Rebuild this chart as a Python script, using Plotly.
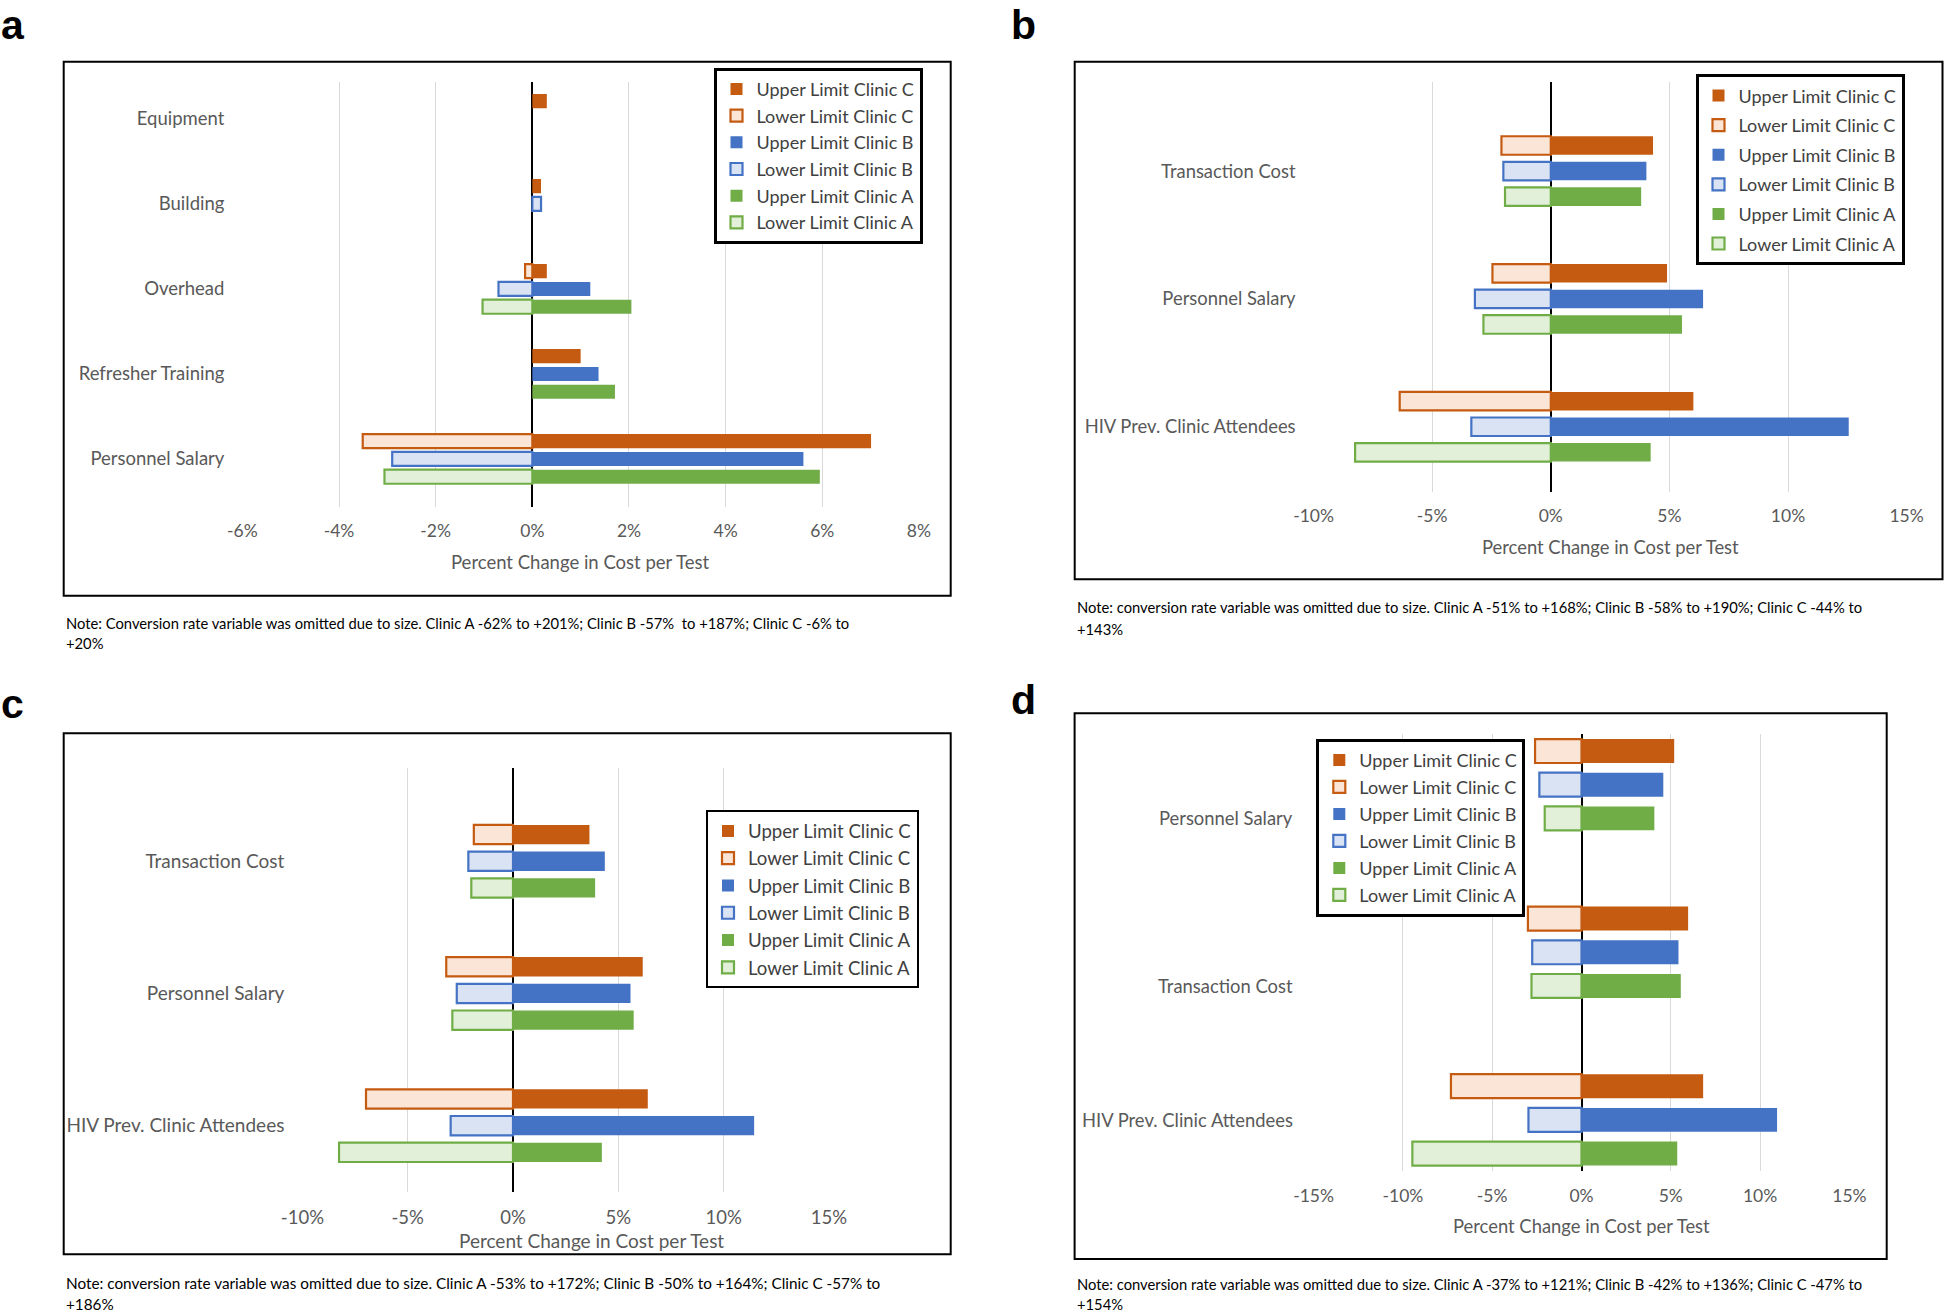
import plotly.graph_objects as go

W, H = 1944, 1313

# ---------------- data ----------------
series_names = ["Upper Limit Clinic C", "Lower Limit Clinic C",
                "Upper Limit Clinic B", "Lower Limit Clinic B",
                "Upper Limit Clinic A", "Lower Limit Clinic A"]

# Panel a
cats_a = ["Equipment", "Building", "Overhead", "Refresher Training", "Personnel Salary"]
upper_c_a = [0.30, 0.18, 0.30, 1.00, 7.01]
lower_c_a = [None, None, -0.15, None, -3.51]
upper_b_a = [None, None, 1.20, 1.37, 5.61]
lower_b_a = [None, 0.18, -0.70, None, -2.90]
upper_a_a = [None, None, 2.05, 1.71, 5.95]
lower_a_a = [None, None, -1.03, None, -3.06]
ticks_a = [-6, -4, -2, 0, 2, 4, 6, 8]
note_a = ["Note: Conversion rate variable was omitted due to size. Clinic A -62% to +201%; Clinic B -57%  to +187%; Clinic C -6% to",
          "+20%"]

# Panel b
cats_b = ["Transaction Cost", "Personnel Salary", "HIV Prev. Clinic Attendees"]
upper_c_b = [4.31, 4.90, 6.01]
lower_c_b = [-2.08, -2.46, -6.37]
upper_b_b = [4.03, 6.42, 12.56]
lower_b_b = [-2.00, -3.20, -3.35]
upper_a_b = [3.81, 5.53, 4.21]
lower_a_b = [-1.93, -2.84, -8.25]
ticks_b = [-10, -5, 0, 5, 10, 15]
note_b = ["Note: conversion rate variable was omitted due to size. Clinic A -51% to +168%; Clinic B -58% to +190%; Clinic C -44% to",
          "+143%"]

# Panel c
cats_c = ["Transaction Cost", "Personnel Salary", "HIV Prev. Clinic Attendees"]
upper_c_c = [3.63, 6.16, 6.40]
lower_c_c = [-1.86, -3.17, -6.98]
upper_b_c = [4.36, 5.58, 11.45]
lower_b_c = [-2.12, -2.67, -2.96]
upper_a_c = [3.90, 5.73, 4.22]
lower_a_c = [-1.98, -2.88, -8.26]
ticks_c = [-10, -5, 0, 5, 10, 15]
note_c = ["Note: conversion rate variable was omitted due to size. Clinic A -53% to +172%; Clinic B -50% to +164%; Clinic C -57% to",
          "+186%"]

# Panel d
cats_d = ["Personnel Salary", "Transaction Cost", "HIV Prev. Clinic Attendees"]
upper_c_d = [5.19, 5.97, 6.81]
lower_c_d = [-2.60, -3.00, -7.31]
upper_b_d = [4.58, 5.43, 10.95]
lower_b_d = [-2.36, -2.76, -2.97]
upper_a_d = [4.08, 5.56, 5.36]
lower_a_d = [-2.06, -2.80, -9.47]
ticks_d = [-15, -10, -5, 0, 5, 10, 15]
note_d = ["Note: conversion rate variable was omitted due to size. Clinic A -37% to +121%; Clinic B -42% to +136%; Clinic C -47% to",
          "+154%"]

axis_title = "Percent Change in Cost per Test"

# ---------------- styling ----------------
FONT = "Lato, Carlito, Calibri, sans-serif"
GRAY = "#595959"
dark_cols = ["#C55A11", "#4472C4", "#70AD47"]
light_cols = ["#FBE5D6", "#DAE3F3", "#E2F0D9"]


def px(x):
    return x / W


def py(y):
    return 1 - y / H


panels = [
    dict(key="a", cats=cats_a,
         series=[upper_c_a, lower_c_a, upper_b_a, lower_b_a, upper_a_a, lower_a_a],
         ticks=ticks_a, note=note_a, ax="", leg="legend",
         xdom=(242.4, 918.9), ydom=(81.7, 506.7), xr=(-6, 8), yr=(4.562, -0.438),
         slot=0.2094, bw=0.165, lab_shift=None,
         fs=dict(lab=18.5, tick=17.5, leg=18, note=14.75),
         box=(63.7, 61.7, 950.7, 595.7), letter=(-1, 0.5), title=(580.5, 561.7),
         notey=(623.3, 643.3), notex=64.3,
         legpos=(713.5, 67.7), legbw=3, leggap=0.3),
    dict(key="b", cats=cats_b,
         series=[upper_c_b, lower_c_b, upper_b_b, lower_b_b, upper_a_b, lower_a_b],
         ticks=ticks_b, note=note_b, ax="2", leg="legend2",
         xdom=(1313.6, 1906.6), ydom=(81.7, 491.7), xr=(-10, 15), yr=(2.508, -0.699),
         slot=0.2, bw=0.145, lab_shift=None,
         fs=dict(lab=18.4, tick=17.5, leg=18, note=14.75),
         box=(1074.7, 61.7, 1942.5, 579.3), letter=(1009, 0.5), title=(1610, 546.7),
         notey=(606.7, 628.7), notex=1074.6,
         legpos=(1695.5, 74.3), legbw=3, leggap=3.2),
    dict(key="c", cats=cats_c,
         series=[upper_c_c, lower_c_c, upper_b_c, lower_b_c, upper_a_c, lower_a_c],
         ticks=ticks_c, note=note_c, ax="3", leg="legend3",
         xdom=(302.4, 828.9), ydom=(768.3, 1192.3), xr=(-10, 15), yr=(2.504, -0.703),
         slot=0.202, bw=0.146, lab_shift=None,
         fs=dict(lab=19, tick=18.5, leg=18.6, note=15.3),
         box=(63.7, 733.3, 950.7, 1254.3), letter=(-1, 678.5), title=(591, 1240),
         notey=(1283, 1303.5), notex=64.3,
         legpos=(706, 810.3), legbw=2, leggap=0.1),
    dict(key="d", cats=cats_d,
         series=[upper_c_d, lower_c_d, upper_b_d, lower_b_d, upper_a_d, lower_a_d],
         ticks=ticks_d, note=note_d, ax="4", leg="legend4",
         xdom=(1313.6, 1849.4), ydom=(734, 1171), xr=(-15, 15), yr=(2.305, -0.3025),
         slot=0.201, bw=0.143, lab_shift=[-33, -33.4, 0],
         fs=dict(lab=18.4, tick=17.5, leg=18, note=14.75),
         box=(1074.6, 713.3, 1886.7, 1259), letter=(1009, 675.2), title=(1581.7, 1226),
         notey=(1284, 1304), notex=1074.6,
         legpos=(1316.3, 738.7), legbw=3, leggap=0.6),
]

fig = go.Figure()
layout = dict(width=W, height=H,
              margin=dict(l=0, r=0, t=0, b=0, pad=0, autoexpand=False),
              paper_bgcolor="white", plot_bgcolor="white",
              barmode="overlay", showlegend=True,
              font=dict(family=FONT, size=17, color=GRAY))
annotations = []
shapes = []

for p in panels:
    xa = "x" + p["ax"]
    ya = "y" + p["ax"]
    s, w = p["slot"], p["bw"]
    fs = p["fs"]
    for i, (name, vals) in enumerate(zip(series_names, p["series"])):
        clinic = i // 2
        lower = i % 2 == 1
        offset = -1.5 * s + clinic * s + (s - w) / 2
        fig.add_trace(go.Bar(
            x=vals, y=p["cats"], orientation="h", name=name,
            width=w, offset=offset,
            marker=dict(color=light_cols[clinic] if lower else dark_cols[clinic],
                        line=dict(color=dark_cols[clinic], width=2.2 if lower else 0)),
            xaxis=xa, yaxis=ya, legend=p["leg"], legendgroup=p["key"] + str(i),
            hoverinfo="x+y+name",
        ))
    xkey = "xaxis" + p["ax"]
    ykey = "yaxis" + p["ax"]
    layout[xkey] = dict(domain=[px(p["xdom"][0]), px(p["xdom"][1])], anchor=ya,
                        range=list(p["xr"]), tickvals=p["ticks"],
                        ticktext=[f"{t}%" for t in p["ticks"]],
                        showgrid=True, gridcolor="#D9D9D9", gridwidth=1,
                        zeroline=True, zerolinecolor="black", zerolinewidth=2,
                        showline=False, ticks="", ticklabelstandoff=12,
                        automargin=False,
                        tickfont=dict(size=fs["tick"], color=GRAY), fixedrange=True)
    layout[ykey] = dict(domain=[py(p["ydom"][1]), py(p["ydom"][0])], anchor=xa,
                        type="category", range=list(p["yr"]),
                        showgrid=False, zeroline=False, showline=False, ticks="",
                        ticklabelstandoff=17, automargin=False,
                        showticklabels=p["lab_shift"] is None,
                        tickfont=dict(size=fs["lab"], color=GRAY), fixedrange=True)
    if p["lab_shift"] is not None:
        for cat, sh in zip(p["cats"], p["lab_shift"]):
            annotations.append(dict(text=cat, xref="paper", yref=ya,
                                    x=px(p["xdom"][0] - 18.6), y=cat, yshift=sh,
                                    xanchor="right", yanchor="middle", showarrow=False,
                                    font=dict(size=fs["lab"], color=GRAY)))
    lx, ly = p["legpos"]
    layout[p["leg"]] = dict(x=px(lx), y=py(ly), xanchor="left", yanchor="top",
                            bgcolor="white", bordercolor="black", borderwidth=p["legbw"],
                            font=dict(size=fs["leg"], color="#404040", family=FONT),
                            tracegroupgap=p["leggap"], traceorder="grouped")
    # frame
    x0, y0, x1, y1 = p["box"]
    shapes.append(dict(type="rect", xref="paper", yref="paper",
                       x0=px(x0), x1=px(x1), y0=py(y1), y1=py(y0),
                       line=dict(color="black", width=2), layer="below"))
    # panel letter
    annotations.append(dict(text=p["key"], xref="paper", yref="paper",
                            x=px(p["letter"][0]), y=py(p["letter"][1]),
                            xanchor="left", yanchor="top", showarrow=False,
                            font=dict(family="Liberation Sans, Arial, sans-serif",
                                      size=41, color="black", weight="bold")))
    # axis title
    annotations.append(dict(text=axis_title, xref="paper", yref="paper",
                            x=px(p["title"][0]), y=py(p["title"][1]),
                            xanchor="center", yanchor="middle", showarrow=False,
                            font=dict(size=fs["lab"], color=GRAY)))
    # notes
    for line, yy in zip(p["note"], p["notey"]):
        annotations.append(dict(text=line, xref="paper", yref="paper",
                                x=px(p["notex"]), y=py(yy),
                                xanchor="left", yanchor="middle", showarrow=False,
                                font=dict(size=fs["note"], color="black")))

layout["annotations"] = annotations
layout["shapes"] = shapes
fig.update_layout(**layout)
fig.write_html("out.html",
               config={"displayModeBar": False},
               post_script="document.body.style.margin='0px';document.body.style.overflow='hidden';")
